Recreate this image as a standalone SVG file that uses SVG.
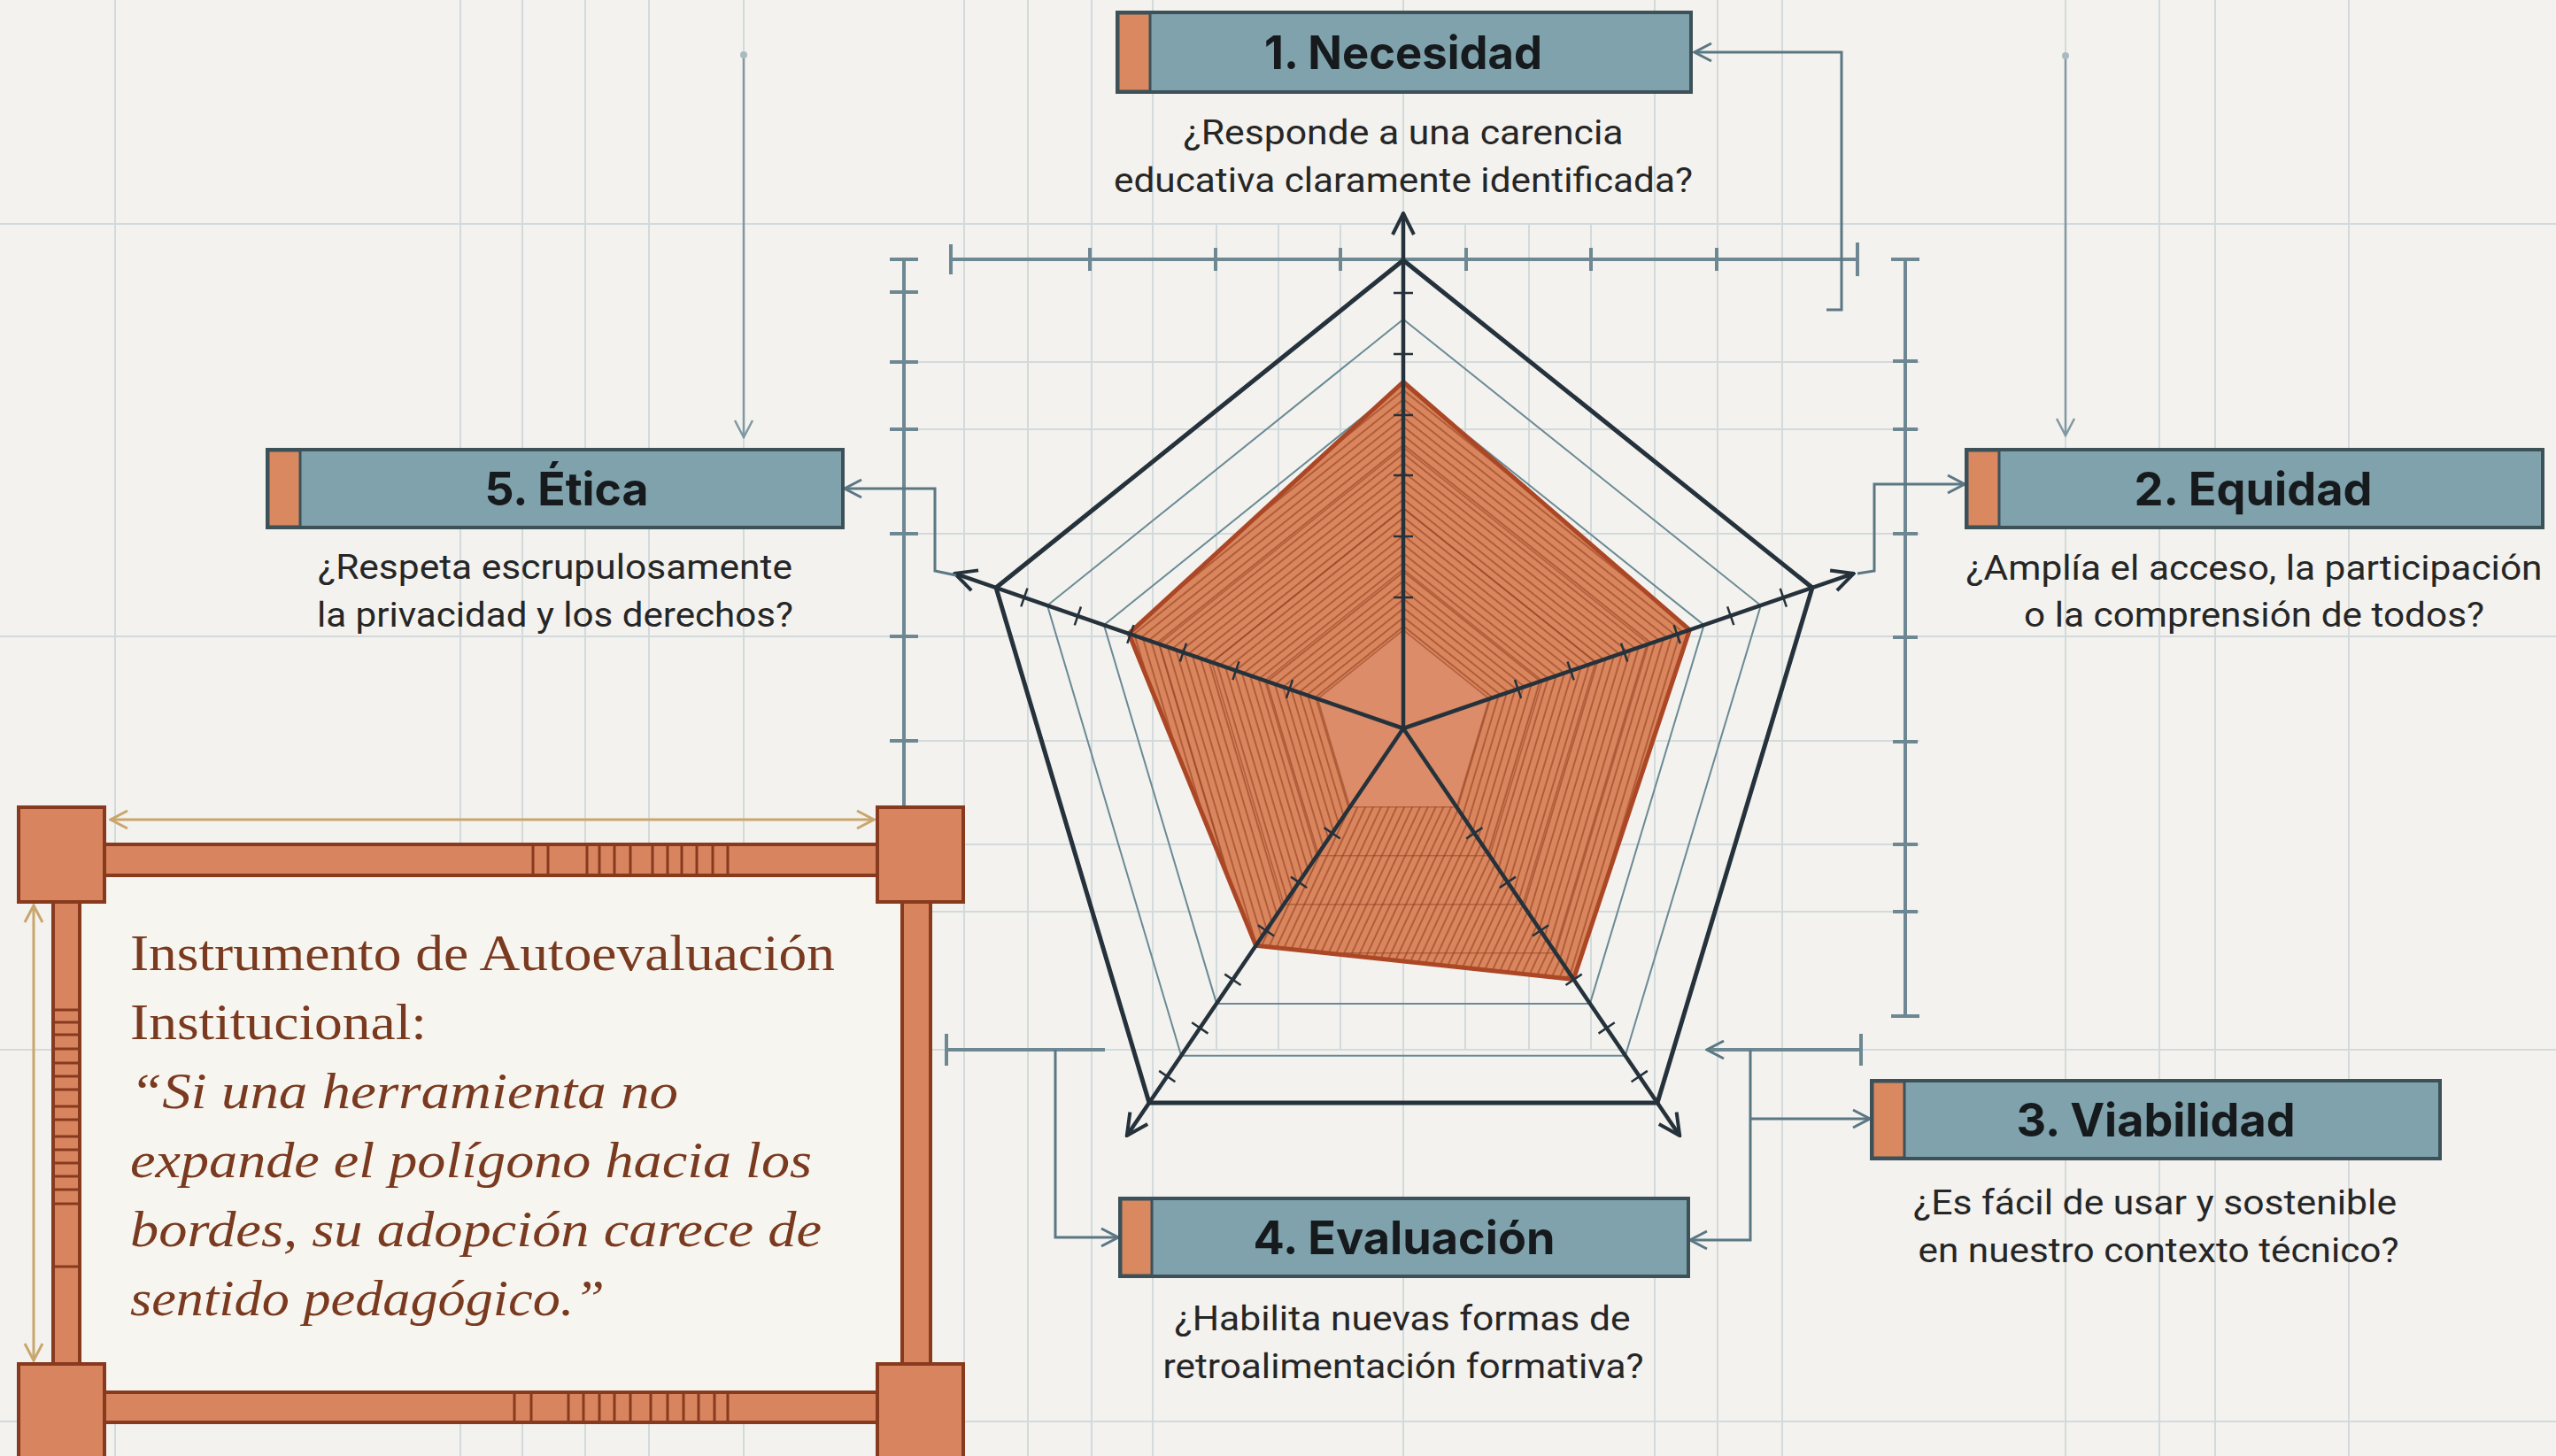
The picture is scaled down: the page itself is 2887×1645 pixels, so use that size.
<svg xmlns="http://www.w3.org/2000/svg" width="2887" height="1645" viewBox="0 0 2887 1645">
<defs>
<style>
.bg{fill:#f3f2ee}
.grid{fill:none;stroke:#d3dadc;stroke-width:2}
.scale{fill:none;stroke:#6e8893;stroke-width:4}
.box{fill:#7fa2ac;stroke:#3d5159;stroke-width:4}
.strip{fill:#d98860;stroke:#3d5159;stroke-width:3}
.title{font-family:Inter,"Open Sans","Liberation Sans",sans-serif;font-weight:700;font-size:52px;fill:#161a1c;text-anchor:middle}
.q{font-family:Roboto,"Liberation Sans",sans-serif;font-size:38px;fill:#262626;text-anchor:middle}
.conn{fill:none;stroke:#5b7784;stroke-width:3}
.vconn{fill:none;stroke:#7f98a2;stroke-width:2.5}
.axis{fill:none;stroke:#25323b;stroke-width:4.5}
.tick{fill:none;stroke:#25323b;stroke-width:2.5}
.outer{fill:none;stroke:#25323b;stroke-width:5;stroke-linejoin:miter}
.thin{fill:none;stroke:#6a8a95;stroke-width:2}
.inner{fill:none;stroke:#8a3c20;stroke-width:1.6;stroke-opacity:.5}
.dataEdge{fill:none;stroke:#ac4726;stroke-width:5;stroke-linejoin:round}
.frame{fill:#d8845f;stroke:#873a1e;stroke-width:4}
.panel{fill:#f7f5f0;stroke:#873a1e;stroke-width:4}
.stripe{fill:none;stroke:#873a1e;stroke-width:3}
.dim{fill:none;stroke:#c9a66d;stroke-width:3}
.quote{font-family:"Liberation Serif","Times New Roman",serif;font-size:56px;fill:#7a3a1f}
.it{font-style:italic}
</style>
<marker id="aSlate" viewBox="0 0 24 24" refX="22" refY="12" markerWidth="24" markerHeight="24" markerUnits="userSpaceOnUse" orient="auto"><path d="M3,2 L22,12 L3,22" fill="none" stroke="#5b7784" stroke-width="3"/></marker>
<marker id="aLight" viewBox="0 0 24 24" refX="22" refY="12" markerWidth="24" markerHeight="24" markerUnits="userSpaceOnUse" orient="auto"><path d="M3,2 L22,12 L3,22" fill="none" stroke="#7f98a2" stroke-width="2.5"/></marker>
<marker id="aDark" viewBox="0 0 30 30" refX="28" refY="15" markerWidth="30" markerHeight="30" markerUnits="userSpaceOnUse" orient="auto"><path d="M4,3 L28,15 L4,27" fill="none" stroke="#25323b" stroke-width="4"/></marker>
<marker id="aTan" viewBox="0 0 24 24" refX="22" refY="12" markerWidth="24" markerHeight="24" markerUnits="userSpaceOnUse" orient="auto-start-reverse"><path d="M3,2 L22,12 L3,22" fill="none" stroke="#c9a66d" stroke-width="3"/></marker>
<pattern id="h1" patternUnits="userSpaceOnUse" width="8" height="8" patternTransform="rotate(38.7)"><rect width="8" height="8" fill="#d9865f"/><rect width="8" height="1.8" fill="#ad5833"/></pattern>
<pattern id="h2" patternUnits="userSpaceOnUse" width="8" height="8" patternTransform="rotate(106.7)"><rect width="8" height="8" fill="#d9865f"/><rect width="8" height="1.8" fill="#ad5833"/></pattern>
<pattern id="h3" patternUnits="userSpaceOnUse" width="8" height="8" patternTransform="rotate(115)"><rect width="8" height="8" fill="#d9865f"/><rect width="8" height="1.8" fill="#ad5833"/></pattern>
<pattern id="h4" patternUnits="userSpaceOnUse" width="8" height="8" patternTransform="rotate(73.4)"><rect width="8" height="8" fill="#d9865f"/><rect width="8" height="1.8" fill="#ad5833"/></pattern>
<pattern id="h5" patternUnits="userSpaceOnUse" width="8" height="8" patternTransform="rotate(-38.8)"><rect width="8" height="8" fill="#d9865f"/><rect width="8" height="1.8" fill="#ad5833"/></pattern>
<clipPath id="dataClip"><polygon points="1585,431.5 1908.4,711.7 1777.3,1106.4 1418.5,1068.3 1275,715.8"/></clipPath>
</defs>

<rect class="bg" x="0" y="0" width="2887" height="1645"/>

<g id="grid" class="grid">
<path d="M130,0V1645M520,0V1645M590,0V1645M661,0V1645M733,0V1645M840,0V1645M1089,0V1645M1161,0V1645M1233,0V1645M1302,0V1645M1585,0V1645M1869,0V1645M1940,0V1645M2013,0V1645M2333,0V1645M2439,0V1645M2502,0V1645M2653,0V1645"/>
<path d="M0,253H2887M0,719H2887M0,1186H2887M0,1606H2887"/>
<path d="M1374,253V1186M1444,253V1186M1514,253V1186M1655,253V1186M1727,253V1186M1797,253V1186"/>
<path d="M1005,409H2168M1005,485H2168M1005,603H2168M1005,837H2168M1005,954H2168M1005,1030H2168"/>
</g>

<g id="scales" class="scale">
<path d="M1074,293H2098M1074,276V310M1231,280V306M1373,280V306M1514,280V306M1656,280V306M1797,280V306M1939,280V306M2098,274V312"/>
<path d="M1021,293V912M1005,293H1037M1005,330H1037M1005,409H1037M1005,485H1037M1005,603H1037M1005,719H1037M1005,837H1037"/>
<path d="M2152,293V1148M2136,293H2168M2138,408H2166M2138,485H2166M2138,603H2166M2138,720H2166M2138,838H2166M2138,954H2166M2138,1030H2166M2136,1148H2168"/>
<path d="M1069,1186H1248M1069,1168V1204M2102,1168V1204"/>
<path d="M2102,1186H1928" marker-end="url(#aSlate)"/>
</g>

<g id="radar">
<polygon class="thin" points="1585,360.7 1988.8,684 1835.8,1192.7 1334.2,1192.7 1183,684"/>
<polygon class="thin" points="1585,434.2 1924.6,706.1 1795.9,1133.9 1374.1,1133.9 1246.9,706.1"/>
<polygon fill="url(#h1)" points="1585,823 1585,431.5 1908.4,711.7"/>
<polygon fill="url(#h2)" points="1585,823 1908.4,711.7 1777.3,1106.4"/>
<polygon fill="url(#h3)" points="1585,823 1777.3,1106.4 1418.5,1068.3"/>
<polygon fill="url(#h4)" points="1585,823 1418.5,1068.3 1275,715.8"/>
<polygon fill="url(#h5)" points="1585,823 1275,715.8 1585,431.5"/>
<polygon fill="#dc8c68" points="1585,711.9 1682,789.6 1645.3,911.8 1524.7,911.8 1488.4,789.6"/>
<g clip-path="url(#dataClip)" class="inner">
<polygon points="1585,711.9 1682,789.6 1645.3,911.8 1524.7,911.8 1488.4,789.6"/>
<polygon points="1585,643.1 1742.1,769 1682.6,966.8 1487.4,966.8 1428.6,769"/>
<polygon points="1585,574.4 1802.1,748.3 1719.9,1021.8 1450.1,1021.8 1368.8,748.3"/>
<polygon points="1585,505.6 1862.2,727.6 1757.2,1076.8 1412.8,1076.8 1309,727.6"/>
</g>
<polygon class="dataEdge" points="1585,431.5 1908.4,711.7 1777.3,1106.4 1418.5,1068.3 1275,715.8"/>
<polygon class="outer" points="1585,294 2047,664 1872,1246 1298,1246 1125,664"/>
<g transform="translate(1585 823) rotate(-90)">
<line class="axis" x1="0" y1="0" x2="582" y2="0" marker-end="url(#aDark)"/>
<path class="tick" d="M492,-11v22M423,-11v22M354,-11v22M286,-11v22M217,-11v22M148,-11v22"/>
</g>
<g transform="translate(1585 823) rotate(-18.99)">
<line class="axis" x1="0" y1="0" x2="538" y2="0" marker-end="url(#aDark)"/>
<path class="tick" d="M454,-11v22M391,-11v22M327,-11v22M264,-11v22M200,-11v22M137,-11v22"/>
</g>
<g transform="translate(1585 823) rotate(55.84)">
<line class="axis" x1="0" y1="0" x2="556" y2="0" marker-end="url(#aDark)"/>
<path class="tick" d="M475,-11v22M409,-11v22M343,-11v22M276,-11v22M210,-11v22M143,-11v22"/>
</g>
<g transform="translate(1585 823) rotate(124.16)">
<line class="axis" x1="0" y1="0" x2="556" y2="0" marker-end="url(#aDark)"/>
<path class="tick" d="M475,-11v22M409,-11v22M343,-11v22M276,-11v22M210,-11v22M143,-11v22"/>
</g>
<g transform="translate(1585 823) rotate(199.07)">
<line class="axis" x1="0" y1="0" x2="536" y2="0" marker-end="url(#aDark)"/>
<path class="tick" d="M453,-11v22M389,-11v22M326,-11v22M263,-11v22M200,-11v22M136,-11v22"/>
</g>
</g>

<g id="connectors">
<path class="conn" d="M2063,350H2080V59H1914" marker-end="url(#aSlate)"/>
<path class="conn" d="M2098,648L2117,645V547H2219" marker-end="url(#aSlate)"/>
<path class="conn" d="M1080,650L1056,645V552H954" marker-end="url(#aSlate)"/>
<path class="conn" d="M1977,1186V1401H1909" marker-end="url(#aSlate)"/>
<path class="conn" d="M1977,1264H2112" marker-end="url(#aSlate)"/>
<path class="conn" d="M1192,1186V1398H1263" marker-end="url(#aSlate)"/>
<path class="vconn" d="M840,64V494" marker-end="url(#aLight)"/>
<path class="vconn" d="M2333,65V492" marker-end="url(#aLight)"/>
<circle cx="840" cy="62" r="4" fill="#a9bbc1"/>
<circle cx="2333" cy="63" r="4" fill="#a9bbc1"/>
</g>

<g id="node-necesidad">
<rect class="box" x="1262" y="14" width="648" height="90"/>
<rect class="strip" x="1263" y="15" width="36" height="88"/>
<text class="title" x="1585" y="78" textLength="314" lengthAdjust="spacingAndGlyphs">1. Necesidad</text>
<text class="q" x="1585" y="163" textLength="497" lengthAdjust="spacingAndGlyphs">¿Responde a una carencia</text>
<text class="q" x="1585" y="217" textLength="654" lengthAdjust="spacingAndGlyphs">educativa claramente identificada?</text>
</g>

<g id="node-equidad">
<rect class="box" x="2221" y="508" width="651" height="88"/>
<rect class="strip" x="2222" y="509" width="36" height="86"/>
<text class="title" x="2545" y="571" textLength="269" lengthAdjust="spacingAndGlyphs">2. Equidad</text>
<text class="q" x="2546" y="655" textLength="651" lengthAdjust="spacingAndGlyphs">¿Amplía el acceso, la participación</text>
<text class="q" x="2546" y="708" textLength="520" lengthAdjust="spacingAndGlyphs">o la comprensión de todos?</text>
</g>

<g id="node-viabilidad">
<rect class="box" x="2114" y="1221" width="642" height="88"/>
<rect class="strip" x="2115" y="1222" width="36" height="86"/>
<text class="title" x="2435" y="1284" textLength="315" lengthAdjust="spacingAndGlyphs">3. Viabilidad</text>
<text class="q" x="2434" y="1372" textLength="546" lengthAdjust="spacingAndGlyphs">¿Es fácil de usar y sostenible</text>
<text class="q" x="2438" y="1426" textLength="543" lengthAdjust="spacingAndGlyphs">en nuestro contexto técnico?</text>
</g>

<g id="node-evaluacion">
<rect class="box" x="1265" y="1354" width="642" height="88"/>
<rect class="strip" x="1266" y="1355" width="35" height="86"/>
<text class="title" x="1586" y="1417" textLength="341" lengthAdjust="spacingAndGlyphs">4. Evaluación</text>
<text class="q" x="1584" y="1503" textLength="515" lengthAdjust="spacingAndGlyphs">¿Habilita nuevas formas de</text>
<text class="q" x="1585" y="1557" textLength="543" lengthAdjust="spacingAndGlyphs">retroalimentación formativa?</text>
</g>

<g id="node-etica">
<rect class="box" x="302" y="508" width="650" height="88"/>
<rect class="strip" x="303" y="509" width="36" height="86"/>
<text class="title" x="640" y="571" textLength="185" lengthAdjust="spacingAndGlyphs">5. Ética</text>
<text class="q" x="627" y="654" textLength="536" lengthAdjust="spacingAndGlyphs">¿Respeta escrupulosamente</text>
<text class="q" x="627" y="708" textLength="538" lengthAdjust="spacingAndGlyphs">la privacidad y los derechos?</text>
</g>

<g id="quote-frame">
<rect class="frame" x="100" y="954" width="910" height="35"/>
<rect class="frame" x="100" y="1573" width="910" height="34"/>
<rect class="frame" x="60" y="1000" width="31" height="560"/>
<rect class="frame" x="1019" y="1000" width="32" height="560"/>
<path class="stripe" d="M602,956V987M619,956V987M663,956V987M677,956V987M694,956V987M712,956V987M737,956V987M754,956V987M770,956V987M787,956V987M805,956V987M822,956V987"/>
<path class="stripe" d="M581,1575V1605M600,1575V1605M642,1575V1605M659,1575V1605M677,1575V1605M694,1575V1605M712,1575V1605M735,1575V1605M754,1575V1605M772,1575V1605M789,1575V1605M807,1575V1605M822,1575V1605"/>
<path class="stripe" d="M62,1141H89M62,1155H89M62,1169H89M62,1185H89M62,1201H89M62,1216H89M62,1231H89M62,1250H89M62,1265H89M62,1284H89M62,1299H89M62,1314H89M62,1329H89M62,1344H89M62,1360H89M62,1431H89"/>
<rect class="panel" x="90" y="989" width="929" height="584"/>
<rect class="frame" x="21" y="912" width="97" height="107"/>
<rect class="frame" x="991" y="912" width="97" height="107"/>
<rect class="frame" x="21" y="1541" width="97" height="110"/>
<rect class="frame" x="991" y="1541" width="97" height="110"/>
<path class="dim" d="M125,926H987" marker-start="url(#aTan)" marker-end="url(#aTan)"/>
<path class="dim" d="M38,1023V1537" marker-start="url(#aTan)" marker-end="url(#aTan)"/>
<text class="quote" x="147" y="1096" textLength="796" lengthAdjust="spacingAndGlyphs">Instrumento de Autoevaluación</text>
<text class="quote" x="147" y="1174" textLength="335" lengthAdjust="spacingAndGlyphs">Institucional:</text>
<text class="quote it" x="147" y="1252" textLength="619" lengthAdjust="spacingAndGlyphs">“Si una herramienta no</text>
<text class="quote it" x="147" y="1330" textLength="770" lengthAdjust="spacingAndGlyphs">expande el polígono hacia los</text>
<text class="quote it" x="147" y="1408" textLength="781" lengthAdjust="spacingAndGlyphs">bordes, su adopción carece de</text>
<text class="quote it" x="147" y="1486" textLength="536" lengthAdjust="spacingAndGlyphs">sentido pedagógico.”</text>
</g>
</svg>
